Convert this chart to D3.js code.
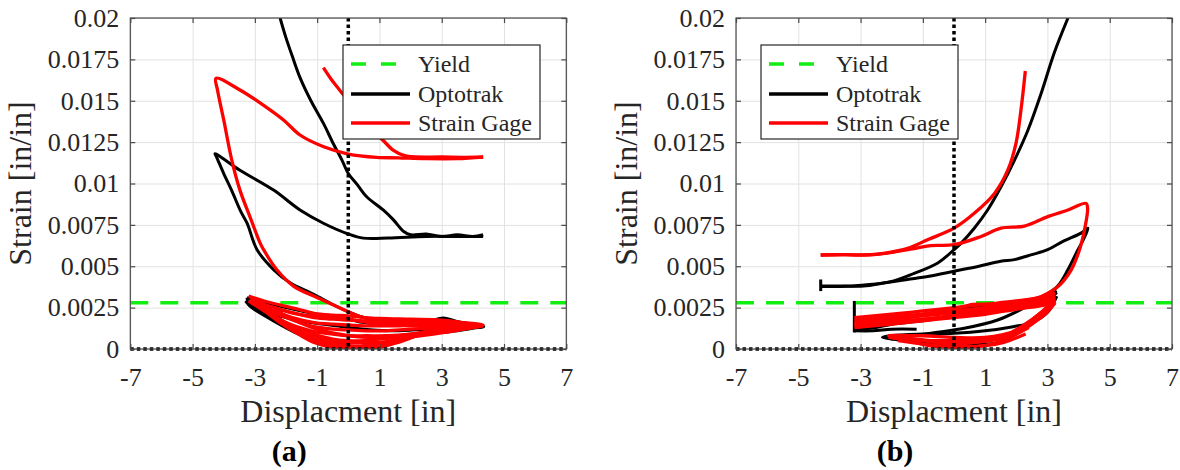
<!DOCTYPE html>
<html>
<head>
<meta charset="utf-8">
<script src="https://cdn.jsdelivr.net/npm/d3@7.9.0/dist/d3.min.js"></script>
</head>
<body style="margin:0;background:#fff">
<svg id="chart" width="1180" height="470" font-family="Liberation Serif" style="display:block;font-family:'Liberation Serif'"></svg>
<script>
// axis ticks and labels
const xTicks = [-7, -5, -3, -1, 1, 3, 5, 7];
const yTicks = [0, 0.0025, 0.005, 0.0075, 0.01, 0.0125, 0.015, 0.0175, 0.02];
const yTickLabels = ['0', '0.0025', '0.005', '0.0075', '0.01', '0.0125', '0.015', '0.0175', '0.02'];
const yieldStrain = 0.0028;
const legendLabels = ['Yield', 'Optotrak', 'Strain Gage'];
const panelNames = ['(a)', '(b)'];

// panel (a): Optotrak, [displacement, strain] segments
const optoA = [
  [[-2.19,0.0200],[-2.0,0.0188],[-1.8,0.0177],[-1.55,0.0164],[-1.2,0.0150],[-0.79,0.0136],[-0.48,0.0124],[-0.2,0.0114],[0,0.0106],[0.3,0.0099],[0.59,0.0092],[1.12,0.0084],[1.45,0.0078],[1.78,0.0071],[2.0,0.0069],[2.5,0.00695],[3.0,0.0068],[3.5,0.0069],[4.0,0.0068],[4.33,0.0069]],
  [[4.33,0.0068],[3.5,0.0068],[2.5,0.0068],[1.28,0.0067],[0.48,0.0067],[0,0.00695],[-0.8,0.0076],[-1.55,0.0084],[-2.4,0.0096],[-3.48,0.0108],[-4.28,0.0118],[-4.23,0.0116],[-4.0,0.0106],[-3.75,0.0096],[-3.45,0.0083],[-3.25,0.0076],[-2.93,0.0060],[-2.4,0.0048],[-1.87,0.0040],[-1.11,0.0033],[-0.47,0.00266],[0,0.00225],[0.5,0.0019],[1.2,0.0016],[2,0.0015],[3,0.0017],[3.6,0.0016],[4.35,0.0014]],
  [[-3.25,0.0031],[-3.2,0.0027],[-2.6,0.0020],[-1.8,0.0012],[-1.1,0.0006],[-0.5,0.0002],[0,0.00002],[0.6,0.00002],[1.2,0.0002],[1.7,0.0005],[2.4,0.0009],[3.2,0.0012],[4.35,0.00135],[3.6,0.0016],[3.05,0.00188],[2.5,0.0016],[1.5,0.0015],[0.5,0.0016],[0,0.0018],[-1,0.0021],[-2,0.0025],[-3,0.0030],[-3.25,0.0031]],
  [[-3.3,0.0029],[-2.8,0.0024],[-2.0,0.0019],[-1.2,0.0016],[-0.4,0.0014],[0.5,0.0012],[1.5,0.0011],[2.5,0.0012],[3.5,0.0013],[4.3,0.0014],[3.5,0.0011],[2.5,0.0009],[1.5,0.0005],[0.8,0.0002],[0,0.0001],[-0.8,0.0003],[-1.6,0.0009],[-2.4,0.0017],[-3.1,0.0025],[-3.3,0.0029]]
];

// panel (a): Strain Gage
const gageA = [
  [[-0.8,0.0170],[-0.55,0.0163],[-0.3,0.0157],[0,0.0150],[0.4,0.0140],[0.8,0.0132],[1.12,0.0126],[1.45,0.0120],[1.78,0.0117],[2.2,0.0116],[3,0.0116],[3.7,0.01158],[4.33,0.0116]],
  [[4.33,0.0116],[3.5,0.0115],[2.5,0.0115],[1.6,0.01155],[0.91,0.01158],[0,0.01178],[-0.79,0.01222],[-1.55,0.01293],[-2.08,0.01384],[-2.73,0.01474],[-3.48,0.01565],[-4.25,0.01636],[-4.2,0.01565],[-4.0,0.01384],[-3.74,0.0114],[-3.48,0.0096],[-3.16,0.0080],[-2.83,0.0064],[-2.72,0.0060],[-2.30,0.0048],[-1.76,0.0038],[-1.11,0.0032],[-0.47,0.00266],[0,0.00225],[0.5,0.0019],[1,0.00185],[2,0.0018],[3,0.00175],[4.35,0.0014]],
  [[-3.2,0.0032],[-2.7,0.0029],[-2.2,0.00266],[-1.6,0.0024],[-1.1,0.00216],[-0.5,0.00205],[0,0.0020],[0.5,0.0019],[1,0.0018],[1.6,0.00168],[2.3,0.0017],[3.1,0.0017],[3.7,0.0016],[4.33,0.00145],[3.7,0.0013],[3.1,0.00115],[2.3,0.00085],[1.6,0.0004],[1,0.0001],[0.5,0.00003],[0,0.00003],[-0.5,0.0001],[-1.1,0.0004],[-1.6,0.0009],[-2.2,0.0016],[-2.7,0.0023],[-3.2,0.0029]],
  [[-3.15,0.0031],[-2.7,0.0027],[-2.2,0.0024],[-1.6,0.0021],[-1.1,0.0019],[-0.5,0.0018],[0,0.00175],[0.5,0.0017],[1,0.00165],[1.6,0.0016],[2.3,0.0016],[3.1,0.0016],[3.7,0.00152],[4.3,0.0014],[3.7,0.00125],[3.1,0.0011],[2.3,0.0009],[1.6,0.0006],[1,0.00035],[0.5,0.0002],[0,0.0002],[-0.5,0.0003],[-1.1,0.0006],[-1.6,0.0011],[-2.2,0.0018],[-2.7,0.0024],[-3.15,0.0029]],
  [[-3.1,0.0030],[-2.5,0.0024],[-1.8,0.0019],[-1.1,0.0016],[-0.5,0.0015],[0,0.00145],[0.5,0.0014],[1,0.0014],[1.6,0.0014],[2.3,0.0015],[3.1,0.0015],[3.7,0.00145],[4.3,0.0014],[3.7,0.0012],[3.1,0.0010],[2.3,0.0008],[1.6,0.0007],[1,0.0006],[0.5,0.0005],[0,0.0005],[-0.5,0.0006],[-1.1,0.0009],[-1.8,0.0014],[-2.5,0.0021],[-3.1,0.0028]],
  [[-2.8,0.0026],[-2.0,0.0019],[-1.2,0.0014],[-0.5,0.0012],[0,0.00115],[0.6,0.0011],[1.2,0.0011],[2,0.0012],[3,0.0013],[4.2,0.0014],[3,0.00105],[2,0.0009],[1.2,0.0008],[0.6,0.0008],[0,0.0008],[-0.5,0.0009],[-1.2,0.0011],[-2,0.0016],[-2.8,0.0025]],
  [[-2.4,0.0025],[-1.6,0.0021],[-0.9,0.00195],[-0.3,0.0019],[0.3,0.0017],[1,0.0015],[2,0.0014],[3,0.0014],[4.0,0.0014],[3,0.0012],[2,0.0009],[1,0.0007],[0,0.0008],[-1,0.0012],[-1.8,0.0018],[-2.4,0.0024]],
  [[-1.6,0.0010],[-1.0,0.0005],[-0.4,0.0002],[0.3,0.00012],[1,0.0002],[1.6,0.0005],[1,0.0004],[0.3,0.0004],[-0.4,0.0004],[-1.0,0.0007],[-1.6,0.0010]]
];

// panel (b): Optotrak
const optoB = [
  [[3.66,0.0200],[3.22,0.0179],[2.80,0.01545],[2.37,0.0132],[1.94,0.0114],[1.51,0.0098],[1.08,0.0084],[0.65,0.0073],[0.23,0.0064],[0,0.0060],[-0.52,0.0052],[-1.28,0.00457],[-2.03,0.00407],[-2.88,0.00387],[-3.63,0.00378],[-4.28,0.00378]],
  [[-4.28,0.0042],[-4.28,0.0035]],
  [[-4.28,0.0038],[-3.5,0.0038],[-2.9,0.0038],[-2.2,0.0040],[-1.5,0.0042],[-0.8,0.0044],[0,0.0047],[0.8,0.0050],[1.5,0.0053],[1.94,0.0054],[2.5,0.0057],[3.01,0.0060],[3.5,0.0065],[4.08,0.0070],[4.30,0.0073],[4.15,0.0066],[3.98,0.0060],[3.66,0.0048],[3.33,0.0038],[2.9,0.0032],[2.37,0.0026],[1.4,0.00175],[0.33,0.00125],[-0.74,0.00095],[-2.03,0.0006]],
  [[-3.2,0.0029],[-3.2,0.0010]],
  [[-3.2,0.0012],[-2.5,0.0013],[-2,0.0015],[-1,0.0017],[0,0.0020],[1,0.0023],[2,0.0026],[3,0.0030],[3.3,0.0034]],
  [[-3.2,0.0016],[-2,0.0019],[-1,0.0021],[0,0.0024],[1,0.0026],[2,0.0028],[3,0.0032],[3.3,0.0035]],
  [[-3.2,0.0011],[-2.6,0.0011],[-2.0,0.0012],[-1.2,0.0012]],
  [[3.3,0.0032],[3,0.0022],[2.5,0.0016],[1.9,0.00135],[1,0.0011],[0,0.00095],[-1,0.0009],[-2,0.0008],[-2.3,0.0007],[-1,0.0004],[0,0.0003],[1,0.0003],[1.6,0.0004]]
];

// panel (b): Strain Gage
const gageB = [
  [[2.29,0.0168],[2.15,0.01444],[1.99,0.01243],[1.73,0.01082],[1.30,0.0094],[0.65,0.0082],[0,0.0073],[-0.85,0.0066],[-1.49,0.00608],[-2.2,0.0058],[-2.88,0.00568],[-3.6,0.0057],[-4.28,0.00568]],
  [[-4.28,0.00568],[-3.5,0.0057],[-2.6,0.0057],[-1.8,0.0059],[-1.2,0.0061],[-0.74,0.00625],[0,0.0063],[0.87,0.0068],[1.51,0.0073],[2.26,0.00743],[3.01,0.0080],[3.66,0.0084],[4.24,0.0088],[4.29,0.0085],[4.19,0.0072],[4.03,0.0060],[3.76,0.00477],[3.33,0.00376],[2.8,0.00316],[2.2,0.0027],[1.5,0.0024],[0.5,0.0022],[-0.5,0.0019],[-1.5,0.0017],[-2.5,0.0016],[-3.2,0.0015]],
  [[-3.2,0.0019],[-2,0.0021],[-1,0.0023],[0,0.0025],[1,0.0027],[2,0.0029],[3,0.0032],[3.25,0.0034]],
  [[-3.2,0.00175],[-2,0.00195],[-1,0.0021],[0,0.0023],[1,0.0025],[2,0.0027],[3,0.0030],[3.25,0.0032]],
  [[-3.2,0.0016],[-2,0.0018],[-1,0.0020],[0,0.0022],[1,0.0024],[2,0.0026],[3,0.0029],[3.25,0.0031]],
  [[-3.2,0.00145],[-2,0.00165],[-1,0.0018],[0,0.0020],[1,0.0022],[2,0.0025],[3,0.0028],[3.25,0.0030]],
  [[-3.2,0.0013],[-2,0.0015],[-1,0.0017],[0,0.0019],[1,0.0021],[2,0.0024],[3,0.0027],[3.25,0.0029]],
  [[-1,0.0021],[0,0.0024],[0.6,0.0027],[1.2,0.0027],[2,0.0028],[3.2,0.0034]],
  [[3.25,0.0030],[2.8,0.0022],[2.2,0.0014],[1.6,0.0008],[1,0.0005],[0,0.0003],[-1,0.0005],[-2.1,0.0008],[-1,0.0008],[0,0.0007],[1,0.0007],[2,0.0011],[2.8,0.0019],[3.25,0.0028]],
  [[3.2,0.0027],[2.5,0.0015],[1.8,0.0007],[1.2,0.0003],[0.5,0.0001],[0,0.00008],[-0.8,0.0002],[-1.5,0.0005],[-2,0.0007]],
  [[3.2,0.0029],[2.6,0.0019],[2.0,0.0011],[1.4,0.0006],[0.6,0.0004],[-0.2,0.0004],[-1.2,0.0006],[-2.1,0.00075]],
  [[-1.8,0.0005],[-1,0.0003],[0,0.00015],[1,0.0002],[1.6,0.0004],[2.3,0.0009]],
  [[-2.1,0.0007],[-1.4,0.00055],[-0.6,0.0005],[0.2,0.00052],[1,0.00055],[1.7,0.0007],[2.4,0.0013]]
];

const svg = d3.select('#chart');
const FONT = 'Liberation Serif';
const textColor = '#262626';
const plotTop = 18;
const plotBottom = 349;
const plotWidth = 436;
const panelLeft = [130.3, 736];
const legendLeft = [343, 761];

function serifText(sel, size) {
  return sel
    .attr('font-family', FONT)
    .style('font-family', `'${FONT}'`)
    .attr('font-size', size);
}

function drawPanel(i, opto, gage) {
  const x0 = panelLeft[i];
  const x = d3.scaleLinear().domain([-7, 7]).range([x0, x0 + plotWidth]);
  const y = d3.scaleLinear().domain([0, 0.02]).range([plotBottom, plotTop]);
  const g = svg.append('g');

  g.append('clipPath')
    .attr('id', `clip-${i}`)
    .append('rect')
    .attr('x', x0)
    .attr('y', plotTop)
    .attr('width', plotWidth)
    .attr('height', plotBottom - plotTop);

  // gridlines
  g.append('g')
    .attr('transform', `translate(0,${plotBottom})`)
    .call(d3.axisBottom(x).tickValues(xTicks).tickSize(-(plotBottom - plotTop)).tickFormat(''))
    .call((s) => {
      s.select('.domain').remove();
      s.selectAll('line').attr('stroke', '#e2e2e2');
    });
  g.append('g')
    .attr('transform', `translate(${x0},0)`)
    .call(d3.axisLeft(y).tickValues(yTicks).tickSize(-plotWidth).tickFormat(''))
    .call((s) => {
      s.select('.domain').remove();
      s.selectAll('line').attr('stroke', '#e2e2e2');
    });

  const plot = g.append('g').attr('clip-path', `url(#clip-${i})`);

  // yield line
  plot.append('line')
    .attr('x1', x(-7)).attr('x2', x(7))
    .attr('y1', y(yieldStrain)).attr('y2', y(yieldStrain))
    .attr('stroke', '#11ee11')
    .attr('stroke-width', 3.5)
    .attr('stroke-dasharray', '18 12');

  const line = d3.line()
    .x((d) => x(d[0]))
    .y((d) => y(d[1]))
    .curve(d3.curveCatmullRom.alpha(0.5));

  plot.append('g')
    .selectAll('path')
    .data(opto)
    .join('path')
    .attr('d', line)
    .attr('fill', 'none')
    .attr('stroke', '#000')
    .attr('stroke-width', 3)
    .attr('stroke-linejoin', 'round');

  plot.append('g')
    .selectAll('path')
    .data(gage)
    .join('path')
    .attr('d', line)
    .attr('fill', 'none')
    .attr('stroke', '#ff0000')
    .attr('stroke-width', 3.3)
    .attr('stroke-linejoin', 'round');

  // zero reference lines (dotted)
  g.append('line')
    .attr('x1', x(0)).attr('x2', x(0))
    .attr('y1', y(0.02)).attr('y2', y(0))
    .attr('stroke', '#000').attr('stroke-width', 3.5)
    .attr('stroke-dasharray', '3.5 3');
  g.append('line')
    .attr('x1', x(-7)).attr('x2', x(7))
    .attr('y1', y(0)).attr('y2', y(0))
    .attr('stroke', '#000').attr('stroke-width', 3.5)
    .attr('stroke-dasharray', '3.5 3');

  // box with inward ticks on all sides
  g.append('rect')
    .attr('x', x0).attr('y', plotTop)
    .attr('width', plotWidth).attr('height', plotBottom - plotTop)
    .attr('fill', 'none').attr('stroke', '#4a4a4a').attr('stroke-width', 1.2);

  const styleAxis = (s) => {
    s.attr('font-family', null).attr('font-size', null);
    s.select('.domain').remove();
    s.selectAll('line').attr('stroke', '#4a4a4a').attr('stroke-width', 1.2);
    s.selectAll('text').attr('fill', textColor).call(serifText, 26);
  };

  g.append('g')
    .attr('transform', `translate(0,${plotBottom})`)
    .call(d3.axisBottom(x).tickValues(xTicks).tickSizeInner(-5).tickSizeOuter(0).tickPadding(19)
      .tickFormat((d) => String(d)))
    .call(styleAxis);
  g.append('g')
    .attr('transform', `translate(0,${plotTop})`)
    .call(d3.axisTop(x).tickValues(xTicks).tickSizeInner(-5).tickSizeOuter(0).tickFormat(''))
    .call(styleAxis);
  g.append('g')
    .attr('transform', `translate(${x0},0)`)
    .call(d3.axisLeft(y).tickValues(yTicks).tickSizeInner(-5).tickSizeOuter(0).tickPadding(11)
      .tickFormat((d, k) => yTickLabels[k]))
    .call(styleAxis);
  g.append('g')
    .attr('transform', `translate(${x0 + plotWidth},0)`)
    .call(d3.axisRight(y).tickValues(yTicks).tickSizeInner(-5).tickSizeOuter(0).tickFormat(''))
    .call(styleAxis);

  // axis titles
  g.append('text')
    .attr('transform', `translate(${x0 - 99},${(plotTop + plotBottom) / 2}) rotate(-90)`)
    .attr('text-anchor', 'middle')
    .attr('fill', textColor)
    .call(serifText, 32)
    .text('Strain [in/in]');
  g.append('text')
    .attr('x', x0 + plotWidth / 2)
    .attr('y', 422)
    .attr('text-anchor', 'middle')
    .attr('fill', textColor)
    .call(serifText, 32)
    .text('Displacment [in]');
  g.append('text')
    .attr('x', x0 + 159)
    .attr('y', 461)
    .attr('text-anchor', 'middle')
    .attr('fill', '#000')
    .call(serifText, 30)
    .attr('font-weight', 'bold')
    .text(panelNames[i]);

  // legend
  const lx = legendLeft[i];
  const legend = g.append('g');
  legend.append('rect')
    .attr('x', lx).attr('y', 45)
    .attr('width', 197).attr('height', 94)
    .attr('fill', '#fff').attr('stroke', '#262626').attr('stroke-width', 1.2);
  const rowY = [64, 94, 123];
  const styles = [
    { color: '#11ee11', dash: '15 15', w: 3.5 },
    { color: '#000', dash: null, w: 3.5 },
    { color: '#ff0000', dash: null, w: 3.5 },
  ];
  legendLabels.forEach((label, k) => {
    legend.append('line')
      .attr('x1', lx + 8).attr('x2', lx + 67)
      .attr('y1', rowY[k]).attr('y2', rowY[k])
      .attr('stroke', styles[k].color)
      .attr('stroke-width', styles[k].w)
      .attr('stroke-dasharray', styles[k].dash);
    legend.append('text')
      .attr('x', lx + 75)
      .attr('y', rowY[k])
      .attr('dy', '0.35em')
      .attr('fill', textColor)
      .call(serifText, 24)
      .text(label);
  });
}

drawPanel(0, optoA, gageA);
drawPanel(1, optoB, gageB);
</script>
</body>
</html>
